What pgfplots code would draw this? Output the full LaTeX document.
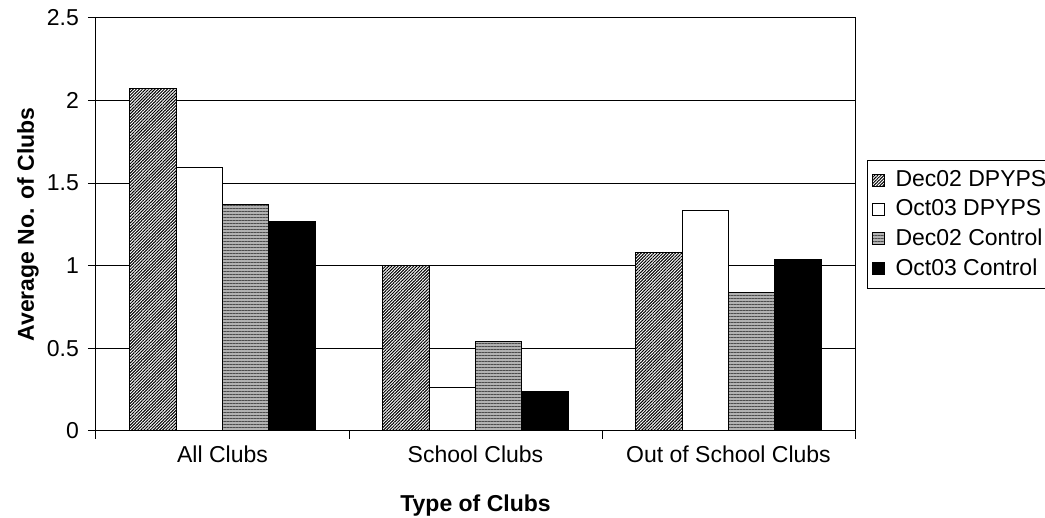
\documentclass[border=0pt]{standalone}
\usepackage{fontspec}
\setmainfont{Liberation Sans}
\usepackage{pgfplots}
\pgfplotsset{compat=1.18}
\usetikzlibrary{patterns.meta}
\pgfplotsset{
  mybar/.style={ybar, bar width=0.183, draw=black, line width=0.5pt,
    legend image code/.code={\draw[##1, line width=0.5pt] (0pt,-3pt) rectangle (6pt,3pt);}},
}
\begin{document}
\begin{tikzpicture}
\begin{axis}[
  scale only axis, width=379.5pt, height=206.5pt,
  xmin=-0.5, xmax=2.5, ymin=0, ymax=2.5,
  ytick={0,0.5,1,1.5,2,2.5},
  xtick={0,1,2},
  xticklabels={All Clubs, School Clubs, Out of School Clubs},
  minor xtick={-0.5,0.5,1.5,2.5},
  tick align=outside, major tick length=4pt, minor tick length=4pt,
  major x tick style={draw=none},
  xtick pos=bottom, ytick pos=left,
  ymajorgrids, grid style={black, line width=0.5pt},
  axis line style={black, line width=0.5pt},
  tick style={black, line width=0.5pt},
  /pgf/number format/assume math mode=true,
  ticklabel style={font=\fontsize{11.5}{13}\selectfont},
  yticklabel style={xshift=-1pt},
  xlabel={Type of Clubs},
  ylabel={Average No. of Clubs},
  label style={font=\bfseries\fontsize{11.5}{13}\selectfont},
  xlabel style={at={(axis description cs:0.5,-0.181)}, anchor=center},
  ylabel style={at={(axis description cs:-0.0896,0.5)}, anchor=center},
  legend style={at={(1,0.5)}, anchor=west, xshift=6pt, draw=black, line width=0.5pt,
    font=\fontsize{11.5}{13}\selectfont, cells={anchor=west},
    row sep=1pt, inner xsep=2pt, inner ysep=3pt,
    /tikz/every odd column/.append style={column sep=3.5pt}},
]
\addplot[mybar, bar shift=-0.2745, fill=white,
  postaction={pattern={Lines[angle=45,distance=1.1pt,line width=0.5pt]}, pattern color=black}]
  coordinates {(0,2.076) (1,1.000) (2,1.079)};
\addplot[mybar, bar shift=-0.0915, fill=white]
  coordinates {(0,1.594) (1,0.264) (2,1.336)};
\addplot[mybar, bar shift=0.0915, fill=black!30,
  postaction={pattern={Lines[angle=0,distance=1.5pt,line width=0.5pt]}, pattern color=black!70}]
  coordinates {(0,1.370) (1,0.539) (2,0.837)};
\addplot[mybar, bar shift=0.2745, fill=black]
  coordinates {(0,1.267) (1,0.242) (2,1.039)};
\legend{Dec02 DPYPS, Oct03 DPYPS, Dec02 Control, Oct03 Control}
\coordinate (bl) at (rel axis cs:0,0);
\end{axis}
\pgfresetboundingbox
\path[use as bounding box] ([shift={(-48pt,-43.5pt)}]bl) rectangle ([shift={(474.5pt,215.5pt)}]bl);
\end{tikzpicture}
\end{document}
